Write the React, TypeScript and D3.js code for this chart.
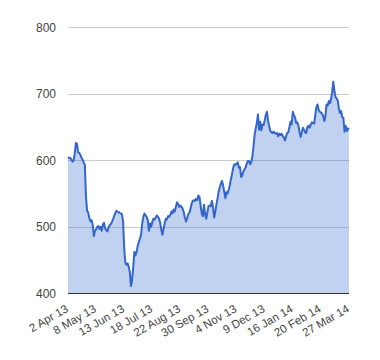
import React from "react";
import * as d3 from "d3";

const tickLabels = ["2 Apr 13", "8 May 13", "13 Jun 13", "18 Jul 13", "22 Aug 13", "30 Sep 13", "4 Nov 13", "9 Dec 13", "16 Jan 14", "20 Feb 14", "27 Mar 14"];
const tickEvery = 25;
const yTicks = [400, 500, 600, 700, 800];

const values = [
  603, 604, 604, 601, 598, 600, 610, 626, 625, 612,
  611, 608, 604, 601, 597, 593, 545, 524, 521, 513,
  508, 510, 503, 486, 494, 496, 500, 501, 497, 500,
  494, 503, 506, 498, 495, 493, 499, 502, 504, 507,
  511, 516, 520, 524, 523, 522, 521, 520, 519, 508,
  468, 446, 443, 445, 440, 432, 411, 420, 438, 462,
  457, 462, 471, 477, 482, 488, 505, 515, 520, 517,
  515, 510, 494, 505, 500, 507, 512, 511, 514, 517,
  515, 512, 506, 496, 488, 497, 505, 512, 511, 516,
  515, 518, 523, 520, 526, 523, 530, 537, 534, 530,
  532, 530, 527, 522, 514, 508, 513, 519, 521, 527,
  535, 539, 540, 539, 542, 540, 547, 545, 532, 520,
  516, 533, 518, 512, 522, 531, 532, 531, 539, 530,
  514, 522, 533, 542, 553, 559, 565, 569, 562, 553,
  543, 552, 550, 556, 563, 572, 580, 589, 594, 593,
  595, 597, 589, 590, 575, 577, 583, 586, 589, 595,
  599, 599, 594, 597, 605, 620, 638, 648, 656, 669,
  646, 658, 645, 654, 653, 660, 668, 673, 660, 651,
  644, 642, 641, 643, 641, 640, 641, 636, 640, 638,
  640, 637, 634, 630, 636, 641, 642, 650, 658, 654,
  673, 668, 664, 656, 657, 652, 643, 635, 642, 649,
  646, 642, 641, 650, 652, 649, 654, 657, 656, 655,
  668, 680, 684, 676, 673, 672, 670, 667, 659, 666,
  684, 682, 689, 686, 692, 702, 718, 705, 695, 693,
  690, 678, 671, 674, 665, 664, 643, 652, 644, 648,
  646,
];

export default function App() {
  const W = 380, H = 360;
  const left = 68, right = 349, top = 27.3, bottom = 293.3;
  const x = d3.scaleLinear().domain([0, values.length - 1]).range([left, right]);
  const y = d3.scaleLinear().domain([400, 800]).range([bottom, top]);
  const area = d3.area<number>().x((_, i) => x(i)).y0(y(400)).y1((d) => y(d));
  const line = d3.line<number>().x((_, i) => x(i)).y((d) => y(d));
  const font = "Arial, 'Liberation Sans', sans-serif";
  return (
    <svg width={W} height={H} style={{ position: "absolute", left: 0, top: 0, background: "#fff" }}>
      {yTicks.filter((t) => t !== 400).map((t) => (
        <line key={t} x1={left} x2={right} y1={Math.round(y(t)) + 0.5} y2={Math.round(y(t)) + 0.5} stroke="#cccccc" strokeWidth={1} />
      ))}
      <path d={area(values) || ""} fill="#3366cc" fillOpacity={0.3} />
      <line x1={left} x2={right} y1={Math.round(y(400)) + 0.5} y2={Math.round(y(400)) + 0.5} stroke="#333333" strokeWidth={1} />
      <path d={line(values) || ""} fill="none" stroke="#3366cc" strokeWidth={2} strokeLinejoin="round" />
      {yTicks.map((t) => (
        <text key={t} x={56} y={y(t) + 4.5} textAnchor="end" fontFamily={font} fontSize={12} fill="#444444">{t}</text>
      ))}
      {tickLabels.map((lab, k) => {
        const tx = x(k * tickEvery) + 1;
        const ty = 311;
        return (
          <text key={lab} x={tx} y={ty} textAnchor="end" fontFamily={font} fontSize={11.5} fill="#444444" transform={`rotate(-30 ${tx} ${ty})`}>{lab}</text>
        );
      })}
    </svg>
  );
}
